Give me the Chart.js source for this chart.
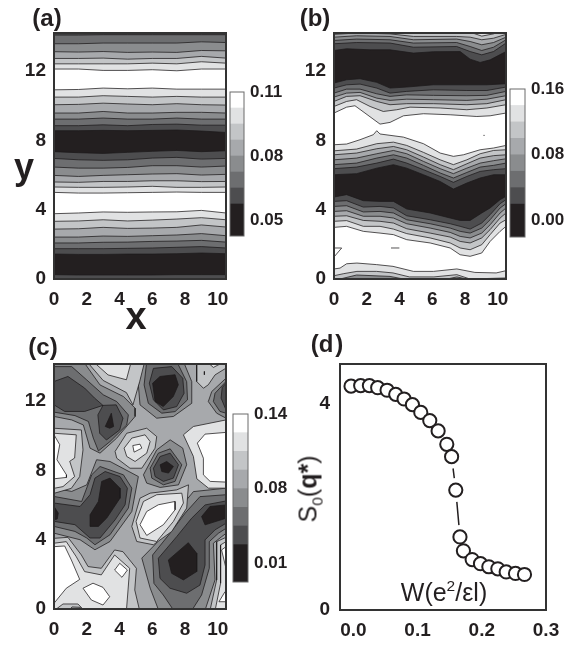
<!DOCTYPE html>
<html><head><meta charset="utf-8">
<script src="https://cdn.jsdelivr.net/npm/chart.js@4"></script>
<style>
html,body{margin:0;padding:0;background:#fff;width:574px;height:645px;overflow:hidden}
canvas{position:absolute;left:0;top:0;pointer-events:none}
.t{position:absolute;font-family:"Liberation Sans",Arial,sans-serif;color:#231f20;transform:translate(-50%,-50%);white-space:nowrap;line-height:1;z-index:5}
.b{font-weight:bold}
sub,sup{font-size:62%;line-height:0}
</style></head><body>
<div class="t b" style="left:47px;top:18px;font-size:24px">(a)</div>
<div class="t b" style="left:315px;top:18px;font-size:24px">(b)</div>
<div class="t b" style="left:43px;top:347px;font-size:24px">(c)</div>
<div class="t b" style="left:327px;top:344px;font-size:24px">(d<span style="margin-left:2px">)</span></div>
<div class="t b" style="left:24px;top:167px;font-size:36px">y</div>
<div class="t b" style="left:136px;top:316px;font-size:38px">x</div>
<div class="t" style="left:444px;top:592px;font-size:25px">W(e<sup>2</sup>/εl)</div>
<div class="t" style="left:308px;top:489px;font-size:25px;transform:translate(-50%,-50%) rotate(-90deg)">S<sub>0</sub>(<b>q*</b>)</div>
<script>
// ---------- shared ----------
const grayRamp = ['#231f20','#4d4d4f','#6d6e70','#8a8c8e','#a7a9ac','#c3c5c7','#e1e2e3','#ffffff'];
const xTicksMap = [0,2,4,6,8,10];
const yTicksMap = [0,4,8,12];

// ---------- colour bars (level boundaries) ----------
const barBandGray = [0,1,2,3,4,5,6,7];
const levelsA = [0.0425,0.0575,0.065,0.0725,0.08,0.0875,0.095,0.1025,0.11];
const levelsB = [-0.02,0.02,0.04,0.06,0.08,0.10,0.12,0.14,0.16];
const levelsC = [-0.00375,0.02875,0.045,0.06125,0.0775,0.09375,0.11,0.12625,0.1425];
const barTicksA = [0.05,0.08,0.11];
const barTicksB = [0,0.08,0.16];
const barTicksC = [0.0125,0.0775,0.1425];

// ---------- panel (a): contour lines y(x), bottom to top ----------
const colsA = [0,1.5,3,4.5,6,7.5,9,10.5];
const linesA = [
[0,0,0,0,0,0,0,0],
[.25,.23,.23,.23,.23,.25,.25,.25],
[1.44,1.42,1.42,1.44,1.44,1.46,1.5,1.46],
[1.75,1.75,1.75,1.77,1.79,1.83,1.87,1.79],
[2.08,2.08,2.12,2.13,2.17,2.19,2.23,2.13],
[2.42,2.42,2.48,2.46,2.5,2.54,2.62,2.5],
[2.88,2.9,2.98,2.92,2.94,2.98,3.12,3.0],
[3.33,3.35,3.42,3.35,3.4,3.46,3.54,3.42],
[3.77,3.81,3.87,3.85,3.87,3.88,3.96,3.81],
[5.0,4.96,4.96,4.98,5.0,5.02,5.0,5.0],
[5.31,5.29,5.29,5.31,5.35,5.29,5.29,5.31],
[5.6,5.58,5.63,5.63,5.67,5.67,5.62,5.63],
[5.98,5.92,5.98,6.02,6.06,6.08,6.0,6.04],
[6.46,6.4,6.4,6.44,6.54,6.54,6.46,6.52],
[6.96,6.88,6.85,6.88,6.98,7.02,6.92,6.96],
[7.35,7.29,7.25,7.31,7.37,7.42,7.35,7.4],
[8.56,8.56,8.58,8.56,8.58,8.6,8.54,8.46],
[8.85,8.85,8.9,8.85,8.92,8.94,8.88,8.88],
[9.23,9.23,9.29,9.23,9.23,9.29,9.23,9.23],
[9.58,9.58,9.67,9.58,9.58,9.62,9.62,9.58],
[10.06,10.08,10.15,10.1,10.06,10.12,10.06,10.04],
[10.5,10.5,10.58,10.54,10.5,10.54,10.5,10.5],
[10.92,10.94,11.02,10.98,11.02,10.96,10.96,10.96],
[12.12,12.12,12.04,12.04,12.08,12.02,12.12,12.12],
[12.42,12.42,12.42,12.42,12.46,12.42,12.54,12.46],
[12.73,12.73,12.75,12.69,12.73,12.73,12.85,12.75],
[13.12,13.1,13.13,13.08,13.1,13.08,13.19,13.17],
[13.58,13.58,13.62,13.62,13.62,13.62,13.69,13.65],
[14.08,14.08,14.1,14.1,14.1,14.1,14.1,14.1]];
const bandsA = [1,0,1,2,3,4,5,6,7,6,5,4,3,2,1,0,1,2,3,4,5,6,7,6,5,4,3,2,1];

// ---------- panel (b): contour lines, bottom to top ----------
const colsB1 = [0,.77,1.79,2.81,3.63,4.44,5.87,7.09,7.7,8.31,9.02,9.53,10.14,10.5];
const linesB1 = [
[2.98,3.04,2.75,2.65,2.56,2.27,2.08,1.79,1.40,1.31,1.5,2.17,2.75,3.04],
[3.33,3.37,3.04,3.04,2.88,2.62,2.37,2.08,1.79,1.69,1.98,2.56,3.23,3.42],
[3.62,3.65,3.38,3.33,3.23,2.9,2.65,2.42,2.17,2.08,2.37,2.85,3.52,3.81],
[3.9,3.94,3.62,3.62,3.52,3.19,2.94,2.69,2.46,2.37,2.65,3.13,3.81,4.1],
[4.19,4.23,3.87,3.9,3.81,3.42,3.19,2.94,2.75,2.65,2.94,3.42,4.1,4.35],
[4.48,4.52,4.15,4.19,4.1,3.65,3.42,3.19,3.04,2.88,3.23,3.71,4.35,4.58],
[4.73,4.87,4.52,4.48,4.48,4.04,3.81,3.52,3.38,3.38,3.81,4.1,4.58,4.77]];
const colsB2 = [0,1.38,2.61,3.63,4.44,5.46,6.48,7.29,8.11,8.92,9.74,10.5];
const linesB2 = [
[6.02,6.08,6.4,6.6,6.4,6.02,5.63,5.19,5.54,5.83,6.02,6.02],
[6.37,6.46,6.69,6.92,6.69,6.31,5.92,5.58,5.92,6.21,6.31,6.37],
[6.6,6.69,6.98,7.17,6.98,6.56,6.12,5.83,6.15,6.46,6.56,6.69],
[6.88,6.98,7.23,7.42,7.23,6.79,6.37,6.08,6.4,6.69,6.83,6.94],
[7.17,7.27,7.52,7.65,7.46,7.04,6.6,6.31,6.65,6.98,7.12,7.17],
[7.4,7.5,7.81,7.9,7.71,7.31,6.88,6.6,6.88,7.23,7.42,7.46]];
const colsB3 = [0,.77,1.59,2.61,3.42,4.44,6.07,8.11,9.33,10.5];
const linesB3 = [
[10.25,10.54,10.58,10.25,10.06,10.12,10.12,10.06,10.12,10.35],
[10.5,10.73,10.77,10.44,10.31,10.38,10.35,10.31,10.38,10.58],
[10.73,10.96,10.96,10.69,10.54,10.63,10.6,10.58,10.6,10.83],
[11.02,11.21,11.25,11.02,10.73,10.83,10.92,10.88,10.88,11.08],
[11.31,11.5,11.56,11.35,11.02,11.08,11.21,11.21,11.21,11.27]];
const colsB4 = [0,1.38,3.42,4.85,7.49,8.31,9.02,9.74,10.5];
const linesB4 = [
[13.58,13.65,13.62,13.38,13.42,13.13,12.94,13.13,13.62],
[13.77,13.85,13.81,13.62,13.65,13.42,13.19,13.38,13.81],
[13.96,14.04,14,13.81,13.85,13.71,13.52,13.65,13.96],
[14.12,14.2,14.15,14,14,13.96,13.81,13.9,14.12]];
const lineB0 = [0,0, 10.5,0];
const lineBLow1 = [0,.19, .6,.31, 1.4,.44, 2.6,.44, 3.6,.35, 4.6,.12, 6.1,.12, 7.5,.25, 8.3,0, 10.5,.06];
const lineBLow2 = [0,.58, .37,.63, .77,.88, 1.4,.92, 2.6,.83, 3.6,.73, 4.85,.44, 6.07,.44, 7.5,.58, 8.6,.38, 9.9,.35, 10.5,.48];
const lineBMid = [0,7.75, .77,7.79, 1.59,8.04, 2.4,8.33, 2.61,8.56, 2.81,8.37, 4.24,8.19, 5.46,7.81, 6.48,7.27, 7.29,7.08, 7.9,7.17, 8.92,7.46, 9.74,7.56, 10.5,7.71];
const lineBHigh1 = [0,9.58, .77,9.92, 1.28,10, 1.89,9.58, 2.81,8.94, 3.42,9.04, 4.24,9.42, 5.46,9.54, 7.09,9.48, 8.72,9.38, 9.53,9.42, 10.5,9.58];
const lineBHigh2 = [0,9.96, .77,10.25, 1.38,10.35, 2.2,9.96, 3.01,9.67, 3.83,9.77, 4.64,9.92, 6.48,9.87, 8.11,9.77, 9.33,9.87, 10.5,10.06];
const lineBTopDark = [0,13.19, .77,13.29, 2.2,13.23, 3.42,13.23, 4.85,13.04, 6.07,13.12, 7.7,13.13, 8.31,12.69, 8.92,12.5, 9.53,12.65, 10.5,13.13];
const lineBTopLight = [0,14.4, 7.5,14.4, 8.31,14.25, 9.02,14.02, 9.74,14.15, 10.5,14.4];
const bandsB = [5,6,7, 6,5,4,3,2,1,0, 1,2,3,4,5,6,7, 6,5,4,3,2,1,0, 1,2,3,4,5,6];
const detailFillB = [[.37,0, 1.38,.23, 3.42,.15, 4.24,0],[6.9,0, 7.5,.12, 8.1,0]];
const detailLineB = [[0,1.79, .47,1.79, 0,1.27],[3.48,1.79, 3.99,1.79],[9.12,8.29, 9.2,8.29]];

// ---------- panel (c): closed contours per grey level ----------
const blobs88 = [
[5.46,14.3, 5.15,12.94, 5.25,11.79, 6.27,11.02, 7.29,11.12, 8.41,11.88, 8.41,13.13, 7.9,14.3],
[0,14.3, 1.79,14.3, 2.81,12.94, 4.24,12.27, 4.95,11.6, 4.95,11.12, 3.83,9.87, 2.81,9, 2.2,9.29, 1.79,10.63, 1.08,10.92, 0,11.12],
[10.5,13.33, 9.63,12.56, 9.42,11.98, 9.93,11.31, 10.5,11.02],
[5.46,7.75, 6.27,9.19, 7.09,9.77, 7.86,9.29, 8.1,8.33, 7.6,7.17, 6.48,7.02, 5.66,7.27],
[0,6.98, 1.08,6.79, 2,7.17, 2.6,8.62, 3.42,8.52, 5.15,7.65, 4.75,5.63, 3.42,3.9, 2.5,3.42, 1.59,4, 0,4.38],
[5.36,2.94, 6.2,3.75, 6.78,4.47, 7.59,5.72, 8.51,6.78, 10.5,6.98, 10.5,4.37, 10.24,4.18, 9.73,3.8, 9.83,1.68, 9.21,-.1, 6.4,-.1, 5.87,1.21]];
const blobs6e = [
[5.66,14.3, 5.5,12.94, 5.76,11.88, 6.58,11.31, 7.39,11.4, 8.15,12.08, 8.1,13.13, 7.49,14.3],
[0,14, 1.08,14, 2,13.23, 3.01,12.37, 3.83,11.98, 4.54,11.21, 4.44,10.63, 3.42,9.67, 2.71,9.13, 2.4,9.87, 2.1,10.83, 1.28,11.17, 0,11.37],
[10.5,13.14, 9.83,12.46, 9.73,11.98, 10.13,11.41, 10.5,11.31],
[5.87,8.13, 6.37,9, 7.09,9.25, 7.8,8.33, 7.39,7.37, 6.68,7.17, 5.97,7.56],
[0,6.5, 1.69,6.21, 2.3,7.75, 2.81,8.23, 4.24,7.75, 4.75,6.98, 4.54,5.83, 3.42,4.29, 2.5,3.71, 2,4.1, 1.28,4.48, 0,4.77],
[10.5,6.6, 8.91,6.49, 8,5.53, 7.08,4.37, 6.02,3.12, 6.1,1.48, 6.67,.81, 7.32,-.1, 8.4,-.1, 9.01,.81, 9.48,2.35, 9.48,3.89, 10.03,4.37, 10.5,4.66]];
const blobs4a = [
[6.07,13.9, 5.82,13.04, 6.07,12.08, 6.68,11.5, 7.49,11.69, 7.94,12.46, 7.86,13.33, 7.19,14],
[0,13.14, .85,13.43, 1.87,12.76, 2.48,12.18, 2.99,11.76, 1.87,11.41, .65,11.41, 0,11.79],
[2.68,11.21, 2.99,11.76, 3.8,11.79, 4.21,11.02, 4.01,10.34, 3.2,9.76, 2.79,10.15],
[10.5,13.04, 10.27,12.8, 10.2,12.18, 10.5,11.5],
[6.07,8.13, 6.48,8.81, 7.09,9, 7.6,8.33, 7.29,7.56, 6.68,7.37, 6.17,7.65],
[0,6.12, 1.59,5.92, 2.2,6.6, 2.5,7.56, 3.12,7.94, 4.03,7.65, 4.48,6.98, 4.34,6.02, 3.73,5.15, 2.81,4.1, 2.2,4.1, 1.28,4.87, 0,5.06],
[10.5,6.24, 9.22,6.01, 8.4,5.24, 7.49,4.18, 6.37,2.93, 6.47,1.77, 7.08,1.2, 8.1,.91, 8.91,1.38, 9.22,2.54, 9.22,3.99, 9.83,4.57, 10.5,4.95]];
const blobs22 = [
[6.02,13.04, 6.47,13.43, 7.39,13.53, 7.59,12.95, 7.28,12.27, 6.67,11.69, 6.17,11.98],
[3.13,10.54, 3.5,11.31, 3.64,10.54, 3.4,10.44],
[6.48,8.33, 6.88,8.52, 7.29,8.23, 6.99,7.85, 6.58,7.94],
[2.91,7.37, 3.42,7.56, 4.03,6.98, 4.03,6.4, 3.22,5.25, 2.71,4.77, 2.2,4.77, 2.2,5.44, 2.71,6.21],
[0,5.92, .26,5.54, .2,5.2, 0,5.15],
[6.98,2.83, 8.2,3.83, 8.71,3.22, 8.71,2.16, 7.9,1.68, 7.18,2.06],
[9.01,5.34, 9.52,5.92, 10.5,6.01, 10.5,5.24, 9.22,4.86]];
const blobsC0 = [
[2,14.3, 3,13.2, 4.42,12.5, 4.82,11.79, 5.23,13.14, 5.54,14.3],
[8.71,14.3, 8.71,13.14, 9.12,12.75, 9.42,12.95, 9.83,13.52, 10.5,13.91, 10.5,14.3],
[3.73,9.1, 4.44,10.15, 5.66,10.44, 6.27,9.96, 6.17,9.29, 5.36,8.13, 4.64,8.13, 3.83,8.71],
[0,10.44, 1.67,10.34, 1.77,9.19, 1.57,7.65, 1.06,6.97, 0,6.68],
[0,4.08, .85,4.14, 1.67,3.12, 2.08,2.45, 2.89,2.35, 3.7,3.41, 4.21,3.31, 5.03,2.35, 4.93,1.1, 5.23,-.1, 0,-.1],
[4.75,4.77, 5.25,6.4, 5.87,6.69, 7.49,6.88, 8.21,7.17, 8.1,5.83, 7.19,4.48, 6.07,3.71, 5.05,3.9],
[10.5,4.14, 9.93,3.89, 9.93,1.68, 9.52,-.1, 10.5,-.1]];
const blobsE0 = [
[2.38,14.3, 3.3,13.52, 4.42,13.24, 4.72,14.3],
[9.32,14.3, 9.73,13.95, 10.44,14.3],
[7.9,10.06, 8.51,10.54, 10.5,10.92, 10.5,6.98, 9.43,6.98, 8.72,7.52, 8.51,8.81],
[4.28,9.29, 4.75,9.87, 5.56,10.06, 5.87,9.67, 5.66,9, 4.95,8.52, 4.44,8.81],
[0,10.15, 1.36,10.06, 1.26,8.72, .96,8.53, 1.26,7.65, .55,7.07, 0,6.97],
[0,3.8, .75,3.89, 1.36,3.02, 1.87,2.16, 2.89,1.97, 3.7,3.12, 4.62,2.35, 4.52,1.1, 4.42,-.1, 1.87,-.1, 1.46,.29, .55,.29, 0,-.1],
[5.01,5.06, 5.46,6.21, 6.27,6.6, 7.8,6.69, 7.9,6.12, 7.29,5.06, 6.27,3.9, 5.25,4.1],
[10.5,3.89, 10.17,3.7, 10.17,1.49, 9.83,-.1, 10.5,-.1]];
const blobsFF = [
[8.75,9.58, 9.22,10.1, 10.5,10.2, 10.5,7.33, 9.53,7.37, 9.12,7.75, 9.12,8.71],
[4.81,9.44, 5.25,9.52, 5.36,9.29, 4.89,9.06],
[0,10.06, .35,9.49, .18,8.62, .76,7.75, .76,7.6, 0,7.52],
[0,3.6, .65,3.64, 1.06,2.83, 1.57,1.71, .75,1.2, 0,.33],
[1.77,1.2, 2.38,1.49, 2.99,1.25, 3.4,.71, 2.99,.23, 2.28,.52],
[3.7,2.25, 4.01,2.64, 4.48,2.25, 4.15,1.83],
[5.25,4.87, 5.66,5.63, 6.37,6.02, 7.39,6.21, 7.39,5.73, 6.68,4.87, 5.66,4.25],
[10.5,3.6, 10.23,3.41, 10.5,2.35],
[10.07,.42, 10.44,1, 10.5,1, 10.5,.42]];
const blobsLateA8 = [[.9,-.1, 1.1,.12, 1.6,.1, 1.75,-.1]];
const markC = [9.18,13.72, 9.18,13.53];
const baseC = [-1,-1, 11,-1, 11,15, -1,15];

// ---------- panel (d) ----------
const interactionW = [-.0036,.0114,.025,.0379,.0525,.066,.079,.092,.105,.119,.132,.1455,.153,.1595,.166,.1714,.185,.198,.211,.225,.238,.2525,.2665];
const structureS0 = [4.35,4.36,4.36,4.32,4.27,4.19,4.10,3.99,3.84,3.68,3.48,3.22,2.98,2.33,1.42,1.15,.98,.90,.84,.80,.74,.71,.69];
const xTicksD = [0,.1,.2,.3];
const yTicksD = [0,4];

// ---------- helpers ----------
const FONT = '"Liberation Sans",Arial,sans-serif';
const INK = '#231f20';
const AXIS_W = 50, AXIS_H = 30, BAR_AXIS_W = 45;
const flat = a => { const o=[]; for(let i=0;i<a.length;i+=2) o.push({x:a[i],y:a[i+1]}); return o; };
const zip = (xs,ys) => xs.map((x,i)=>({x,y:ys[i]}));
const closed = a => { const p=flat(a); p.push(p[0]); return p; };
function canvas(){ const c=document.createElement('canvas'); c.width=574; c.height=645; c.style.width='574px'; c.style.height='645px'; document.body.appendChild(c); return c; }
const framePlugin = color => ({id:'frame',afterDraw(ch){ const a=ch.chartArea,c=ch.ctx; c.save(); c.strokeStyle=color.c; c.lineWidth=color.w; c.strokeRect(a.left,a.top,a.right-a.left,a.bottom-a.top); c.restore(); }});
const setTicks = list => s => { s.ticks = list.map(v=>({value:v})); };
function axis(horizontal,min,max,list,fmt,pad,size,thick){
  return {type:'linear',min,max,display:true,
    grid:{display:false,drawTicks:false},border:{display:false},
    afterBuildTicks:setTicks(list),
    afterFit:s=>{ if(horizontal) s.height=AXIS_H; else s.width=thick||AXIS_W; },
    ticks:{autoSkip:false,maxRotation:0,padding:pad,color:INK,font:{family:FONT,weight:'bold',size:size||19},callback:fmt}};
}
function plotOptions(box,xAxis,yAxis,fillTime){
  return {responsive:false,animation:false,devicePixelRatio:1,
    layout:{padding:{left:box[0]-AXIS_W,top:box[1],right:574-box[2],bottom:645-box[3]-AXIS_H}},
    plugins:{legend:{display:false},tooltip:{enabled:false},filler:{drawTime:fillTime}},
    scales:{x:xAxis,y:yAxis}};
}
const intFmt = v=>String(v);
function contourLine(points,fill,color,i,n){
  return {data:points,showLine:true,pointRadius:0,tension:0,borderColor:'#1c1a1b',borderWidth:.75,fill,backgroundColor:color,order:n-i};
}
function stackChart(box,lines,bands,extras){
  const n=lines.length+extras.length;
  const ds=lines.map((p,i)=>contourLine(p,'end',grayRamp[bands[i]],i,n));
  extras.forEach((e,k)=>ds.push(contourLine(e.points,e.fill,e.color,lines.length+k,n)));
  new Chart(canvas(),{type:'scatter',data:{datasets:ds},
    options:plotOptions(box,axis(true,0,10.5,xTicksMap,intFmt,9),axis(false,0,14.2,yTicksMap,intFmt,8),'beforeDatasetsDraw'),
    plugins:[framePlugin({c:'#333',w:2})]});
}
function colorBar(box,levels,ticks){
  const ds=barBandGray.map(g=>({data:[[levels[g],levels[g+1]]],backgroundColor:grayRamp[g],borderWidth:0,barPercentage:1,categoryPercentage:1,grouped:false}));
  new Chart(canvas(),{type:'bar',data:{labels:['level'],datasets:ds},
    options:{responsive:false,animation:false,devicePixelRatio:1,
      layout:{padding:{left:box[0],top:box[1],right:574-box[2]-BAR_AXIS_W,bottom:645-box[3]}},
      plugins:{legend:{display:false},tooltip:{enabled:false}},
      scales:{x:{display:false,grid:{display:false}},
        y:Object.assign(axis(false,levels[0],levels[levels.length-1],ticks,v=>v.toFixed(2),6,17,BAR_AXIS_W),{position:'right'})}},
    plugins:[framePlugin({c:'#6a6a6a',w:1})]});
}

// ---------- panel (a) ----------
stackChart([54,33,226,279],linesA.map(r=>zip(colsA,r)),bandsA,[]);
colorBar([230,92,244,236],levelsA,barTicksA);

// ---------- panel (b) ----------
const linesB = [flat(lineB0),flat(lineBLow1),flat(lineBLow2),
  ...linesB1.map(r=>zip(colsB1,r)),
  ...linesB2.map(r=>zip(colsB2,r)),flat(lineBMid),
  flat(lineBHigh1),flat(lineBHigh2),
  ...linesB3.map(r=>zip(colsB3,r)),
  flat(lineBTopDark),
  ...linesB4.map(r=>zip(colsB4,r)),flat(lineBTopLight)];
const extrasB = [...detailFillB.map(a=>({points:flat(a),fill:'shape',color:grayRamp[3]})),
  ...detailLineB.map(a=>({points:flat(a),fill:false,color:'transparent'}))];
stackChart([334,33,506,279],linesB,bandsB,extrasB);
colorBar([510,89,525,237],levelsB,barTicksB);

// ---------- panel (c) ----------
const layersC = [[baseC,4],...blobs88.map(b=>[b,3]),...blobs6e.map(b=>[b,2]),...blobs4a.map(b=>[b,1]),...blobs22.map(b=>[b,0]),
  ...blobsC0.map(b=>[b,5]),...blobsE0.map(b=>[b,6]),...blobsFF.map(b=>[b,7]),...blobsLateA8.map(b=>[b,4])];
const setsC = layersC.map((l,i)=>contourLine(closed(l[0]),'shape',grayRamp[l[1]],i,layersC.length+1));
setsC.push(contourLine(flat(markC),false,'transparent',layersC.length,layersC.length+1));
new Chart(canvas(),{type:'scatter',
  data:{datasets:setsC},
  options:plotOptions([54,364,226,609],axis(true,0,10.5,xTicksMap,intFmt,9),axis(false,0,14.15,yTicksMap,intFmt,8),'beforeDatasetDraw'),
  plugins:[framePlugin({c:'#333',w:2})]});
colorBar([233,414,248,582],levelsC,barTicksC);

// ---------- panel (d) ----------
const ptsD = zip(interactionW,structureS0);
new Chart(canvas(),{type:'scatter',
  data:{datasets:[
    {data:ptsD,pointRadius:6.6,pointBackgroundColor:'#fff',pointBorderColor:INK,pointBorderWidth:2,order:0},
    {data:ptsD,pointRadius:12,pointBackgroundColor:'#fff',pointBorderWidth:0,order:1},
    {data:ptsD,showLine:true,pointRadius:0,borderColor:INK,borderWidth:1.5,order:2}]},
  options:plotOptions([340,364,546,610],
    axis(true,-.0208,.3,xTicksD,v=>v.toFixed(1),9),
    axis(false,0,4.78,yTicksD,intFmt,10),'beforeDatasetDraw'),
  plugins:[framePlugin({c:'#333',w:2})]});
</script>
</body></html>
